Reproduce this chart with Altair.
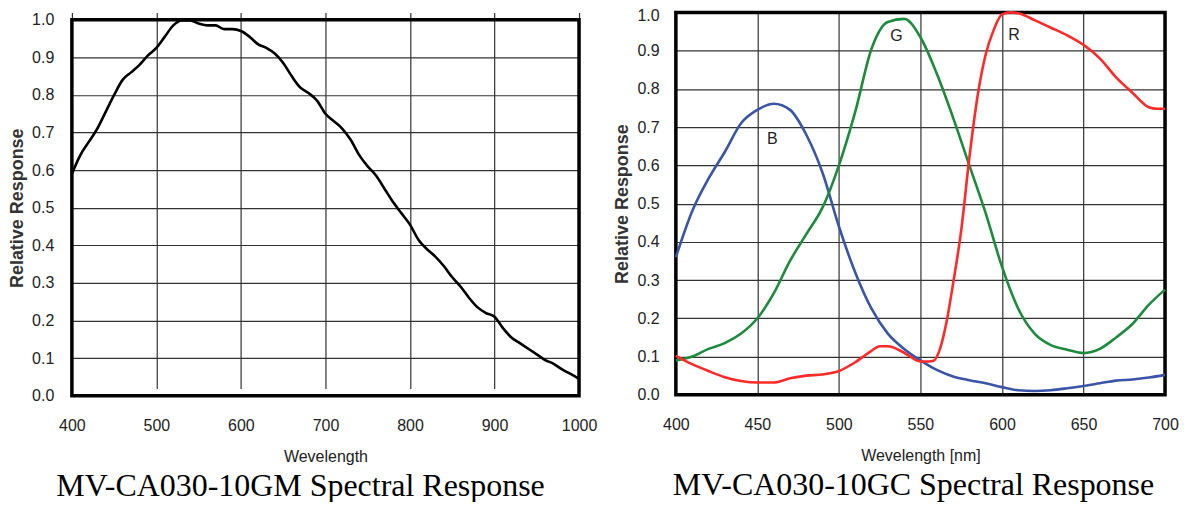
import altair as alt
import pandas as pd

# ---------------- data ----------------
mono_nm = [400, 410, 420, 430, 440, 450, 460, 470, 480, 490,
           500, 510, 520, 530, 540, 550, 560, 570, 580, 590,
           600, 610, 620, 630, 640, 650, 660, 670, 680, 690,
           700, 710, 720, 730, 740, 750, 760, 770, 780, 790,
           800, 810, 820, 830, 840, 850, 860, 870, 880, 890,
           900, 910, 920, 930, 940, 950, 960, 970, 980, 990, 1000]
mono_resp = [0.59, 0.64, 0.675, 0.71, 0.755, 0.80, 0.84, 0.86, 0.88, 0.905,
             0.925, 0.955, 0.985, 0.998, 0.998, 0.99, 0.985, 0.985, 0.975, 0.975,
             0.97, 0.955, 0.935, 0.925, 0.91, 0.885, 0.85, 0.82, 0.805, 0.785,
             0.75, 0.73, 0.71, 0.68, 0.64, 0.61, 0.585, 0.55, 0.515, 0.485,
             0.455, 0.415, 0.39, 0.37, 0.345, 0.315, 0.29, 0.26, 0.235, 0.22,
             0.21, 0.18, 0.155, 0.14, 0.125, 0.11, 0.095, 0.085, 0.07, 0.058, 0.045]

blue_nm = [400, 410, 420, 430, 440, 450, 460, 470, 480, 490,
           500, 510, 520, 530, 540, 550, 560, 570, 580, 590,
           600, 610, 620, 630, 640, 650, 660, 670, 680, 690, 700]
blue_resp = [0.36, 0.48, 0.565, 0.635, 0.71, 0.745, 0.761, 0.745, 0.68, 0.58,
             0.44, 0.32, 0.225, 0.16, 0.12, 0.09, 0.065, 0.048, 0.038, 0.03,
             0.02, 0.012, 0.01, 0.012, 0.017, 0.023, 0.03, 0.037, 0.04, 0.045, 0.052]

green_nm = [400, 410, 420, 430, 440, 450, 460, 470, 480, 490,
            500, 510, 520, 530, 540, 550, 560, 570, 580, 590,
            600, 610, 620, 630, 640, 650, 660, 670, 680, 690, 700]
green_resp = [0.09, 0.10, 0.12, 0.135, 0.16, 0.20, 0.265, 0.35, 0.42, 0.49,
              0.60, 0.74, 0.905, 0.975, 0.983, 0.935, 0.84, 0.725, 0.60, 0.475,
              0.335, 0.225, 0.16, 0.13, 0.118, 0.109, 0.12, 0.15, 0.185, 0.235, 0.275]

red_nm = [400, 410, 420, 430, 440, 450, 460, 470, 480, 490,
          500, 510, 520, 525, 530, 540, 550, 555, 558, 562,
          566, 570, 575, 580, 585, 590, 595, 600, 605, 610,
          620, 630, 640, 650, 660, 670, 680, 690, 695, 700]
red_resp = [0.102, 0.08, 0.062, 0.046, 0.036, 0.032, 0.032, 0.043, 0.05, 0.053,
            0.062, 0.085, 0.115, 0.127, 0.127, 0.11, 0.087, 0.087, 0.089, 0.12,
            0.19, 0.29, 0.43, 0.62, 0.78, 0.89, 0.955, 0.995, 1.0, 0.998,
            0.98, 0.96, 0.94, 0.915, 0.88, 0.83, 0.79, 0.752, 0.748, 0.748]

series_names = ["B", "G", "R"]
series_colors = ["#3a55a8", "#1e8a3e", "#ff2a2a"]
label_nm = [459.2, 535.3, 607.4]
label_resp = [0.669, 0.938, 0.941]

mono_x_ticks = [400, 500, 600, 700, 800, 900, 1000]
color_x_ticks = [400, 450, 500, 550, 600, 650, 700]
y_ticks = [0.0, 0.1, 0.2, 0.3, 0.4, 0.5, 0.6, 0.7, 0.8, 0.9, 1.0]

mono_title = "MV-CA030-10GM Spectral Response"
color_title = "MV-CA030-10GC Spectral Response"

# ---------------- tables ----------------
mono_df = pd.DataFrame({"nm": mono_nm, "resp": mono_resp})
color_df = pd.concat([
    pd.DataFrame({"nm": blue_nm, "resp": blue_resp, "s": "B"}),
    pd.DataFrame({"nm": green_nm, "resp": green_resp, "s": "G"}),
    pd.DataFrame({"nm": red_nm, "resp": red_resp, "s": "R"}),
], ignore_index=True)
label_df = pd.DataFrame({"nm": label_nm, "resp": label_resp, "s": series_names})
frame_l = pd.DataFrame({"x": [mono_x_ticks[0]], "x2": [mono_x_ticks[-1]],
                        "y": [y_ticks[0]], "y2": [y_ticks[-1]]})
frame_r = pd.DataFrame({"x": [color_x_ticks[0]], "x2": [color_x_ticks[-1]],
                        "y": [y_ticks[0]], "y2": [y_ticks[-1]]})

SANS = "Liberation Sans, Arial, sans-serif"
SERIF = "Liberation Serif, Times New Roman, serif"

def y_axis(lp, top_offset=0):
    kw = {}
    if top_offset:
        kw["labelOffset"] = {"condition": {"test": "datum.value >= 0.99", "value": top_offset},
                             "value": 0}
    return alt.Axis(values=y_ticks, tickCount=len(y_ticks) + 2, format=".1f",
                    title="Relative Response",
                    labelPadding=lp, titlePadding=5,
                    titleFont=SANS, titleFontSize=18, titleFontWeight="bold",
                    titleColor="#333", **kw)

def x_axis(values, title):
    return alt.Axis(values=values, tickCount=len(values) + 2, format="d", title=title,
                    labelPadding=22, titlePadding=15,
                    titleFont=SANS, titleFontSize=16, titleFontWeight="normal",
                    titleColor="#222")

def caption(text, dx):
    return alt.TitleParams(text, orient="bottom", anchor="middle", frame="group",
                           dx=dx, offset=6, font=SERIF, fontSize=32,
                           fontWeight="normal", color="black")

# ---------------- left panel ----------------
LW, LH = 508, 384
xs_l = alt.Scale(domain=[mono_x_ticks[0], mono_x_ticks[-1]], nice=False, zero=False)
ys_l = alt.Scale(domain=[0, 1], nice=False, range=[LH, 7.3])
ax_xl = x_axis(mono_x_ticks, "Wevelength")
ax_yl = y_axis(18.1)

frame_left = alt.Chart(frame_l).mark_rect(filled=False, stroke="black", strokeWidth=3.5).encode(
    x=alt.X("x:Q", scale=xs_l, axis=ax_xl),
    x2="x2:Q",
    y=alt.Y("y:Q", scale=ys_l, axis=ax_yl),
    y2="y2:Q",
)
line_left = alt.Chart(mono_df).mark_line(color="black", strokeWidth=2.6, interpolate="monotone").encode(
    x=alt.X("nm:Q", axis=ax_xl), y=alt.Y("resp:Q", axis=ax_yl))
left = alt.layer(frame_left, line_left).properties(
    width=LW, height=LH, title=caption(mono_title, -25))

# ---------------- right panel ----------------
RW, RH = 490, 383
xs_r = alt.Scale(domain=[color_x_ticks[0], color_x_ticks[-1]], nice=False, zero=False)
ys_r = alt.Scale(domain=[0, 1], nice=False)
ax_xr = x_axis(color_x_ticks, "Wevelength [nm]")
ax_yr = y_axis(16.7, 3)

frame_right = alt.Chart(frame_r).mark_rect(filled=False, stroke="black", strokeWidth=3.5).encode(
    x=alt.X("x:Q", scale=xs_r, axis=ax_xr),
    x2="x2:Q",
    y=alt.Y("y:Q", scale=ys_r, axis=ax_yr),
    y2="y2:Q",
)
lines_right = alt.Chart(color_df).mark_line(strokeWidth=2.6, interpolate="monotone").encode(
    x=alt.X("nm:Q", axis=ax_xr), y=alt.Y("resp:Q", axis=ax_yr),
    color=alt.Color("s:N", scale=alt.Scale(domain=series_names, range=series_colors), legend=None),
)
labels_right = alt.Chart(label_df).mark_text(font=SANS, fontSize=16, color="#222",
                                             align="center", baseline="middle").encode(
    x=alt.X("nm:Q", axis=ax_xr), y=alt.Y("resp:Q", axis=ax_yr), text="s:N")
right = alt.layer(frame_right, lines_right, labels_right).properties(
    width=RW, height=RH, title=caption(color_title, -7))

chart = alt.hconcat(left, right, spacing=97, bounds="flush").properties(
    padding={"left": 0, "top": -2, "right": 0, "bottom": 0}
).configure_view(strokeWidth=0).configure_axis(
    grid=True, gridColor="#333", gridWidth=1.2, gridOpacity=1,
    domain=False, ticks=False, tickSize=0,
    labelFlush=False, labelOverlap=False,
    labelFont=SANS, labelFontSize=16, labelColor="#222",
)

chart.save("out.html", embed_options={"renderer": "svg", "actions": False})
